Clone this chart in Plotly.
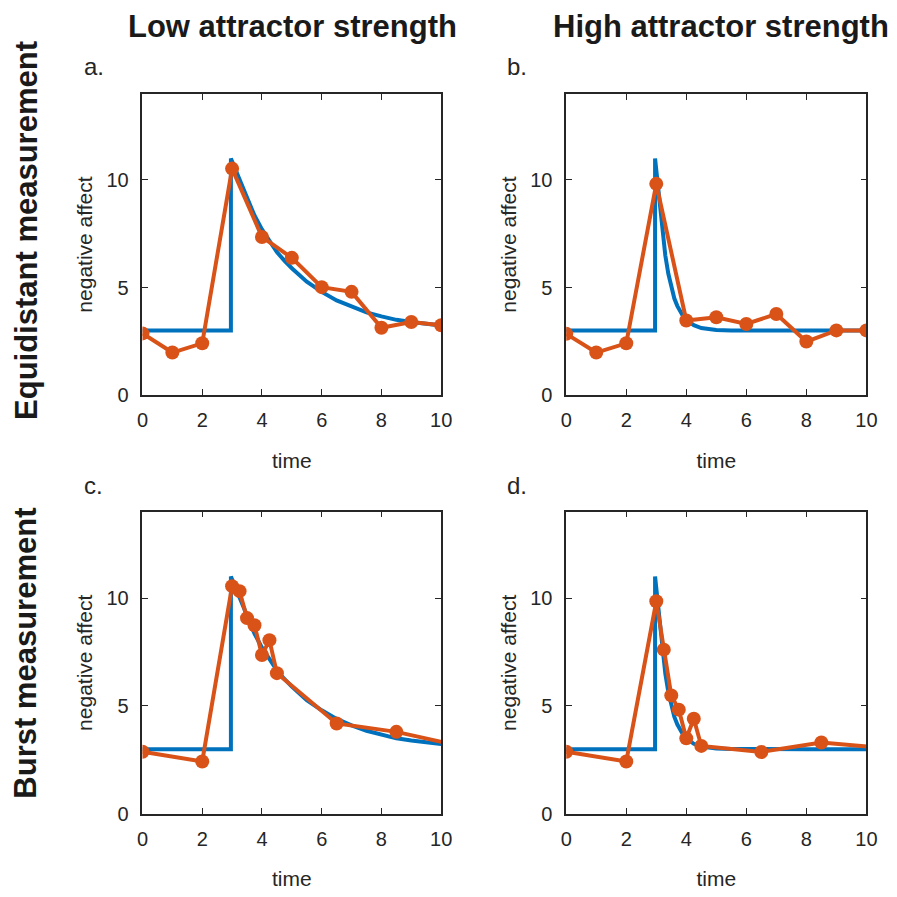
import plotly.graph_objects as go
from plotly.subplots import make_subplots

# ---- data ----
# true (latent) process, low attractor strength
low_t = [0, 2.96, 2.96, 3.25, 3.5, 3.75, 4, 4.25, 4.5, 4.75, 5, 5.5, 6, 6.5, 7, 7.5, 8, 8.5, 9, 9.5, 10]
low_v = [3, 3, 11, 10.0, 9.15, 8.35, 7.7, 7.15, 6.65, 6.25, 5.9, 5.27, 4.8, 4.4, 4.1, 3.85, 3.66, 3.5, 3.4, 3.3, 3.24]
# true (latent) process, high attractor strength
high_t = [0, 2.96, 2.96, 3.1, 3.2, 3.3, 3.4, 3.5, 3.6, 3.7, 3.8, 3.9, 4.0, 4.25, 4.5, 4.75, 5, 5.5, 6, 8, 10]
high_v = [3, 3, 11, 9.05, 7.6, 6.5, 5.65, 5.0, 4.5, 4.15, 3.87, 3.65, 3.5, 3.25, 3.12, 3.06, 3.03, 3.01, 3.0, 3.0, 3.0]

# equidistant measurements
eq_t = [0, 1, 2, 3, 4, 5, 6, 7, 8, 9, 10]
eq_low = [2.87, 1.98, 2.41, 10.53, 7.35, 6.38, 5.02, 4.8, 3.13, 3.4, 3.25]
eq_high = [2.85, 1.98, 2.41, 9.82, 3.47, 3.62, 3.31, 3.77, 2.49, 3.01, 3.01]

# burst measurements
bu_t = [0, 2, 3, 3.25, 3.5, 3.75, 4, 4.25, 4.5, 6.5, 8.5, 10.5]
bu_low = [2.88, 2.43, 10.55, 10.32, 9.07, 8.74, 7.36, 8.05, 6.52, 4.19, 3.8, 3.19]
bu_high = [2.88, 2.43, 9.85, 7.61, 5.49, 4.83, 3.5, 4.41, 3.15, 2.87, 3.31, 3.06]

col_titles = ["Low attractor strength", "High attractor strength"]
row_titles = ["Equidistant measurement", "Burst measurement"]
panel_labels = ["a.", "b.", "c.", "d."]
x_ticks = [0, 2, 4, 6, 8, 10]
y_ticks = [0, 5, 10]

BLUE = "#0072BD"
ORANGE = "#D95319"
AX = "#262626"
FONT = "Liberation Sans, Arial, sans-serif"
OFF = 8          # default page body margin
W = H = 897 - OFF

fig = make_subplots(rows=2, cols=2)

panels = [
    (1, 1, low_t, low_v, eq_t, eq_low),
    (1, 2, high_t, high_v, eq_t, eq_high),
    (2, 1, low_t, low_v, bu_t, bu_low),
    (2, 2, high_t, high_v, bu_t, bu_high),
]
for r, c, tt, tv, mt, mv in panels:
    fig.add_trace(go.Scatter(x=tt, y=tv, mode="lines",
                             line=dict(color=BLUE, width=4),
                             showlegend=False, hoverinfo="skip"), row=r, col=c)
    fig.add_trace(go.Scatter(x=mt, y=mv, mode="lines+markers",
                             line=dict(color=ORANGE, width=4),
                             marker=dict(color=ORANGE, size=14),
                             showlegend=False), row=r, col=c)

# axes placement in page pixels
xcols = [(139, 443.5), (571, 877)]
yrows = [(95, 400), (518, 824)]

def px2x(p):
    return (p - OFF) / W

def px2y(p):
    return 1 - (p - OFF) / H

for r in range(2):
    for c in range(2):
        idx = r * 2 + c + 1
        xa = "xaxis" if idx == 1 else f"xaxis{idx}"
        ya = "yaxis" if idx == 1 else f"yaxis{idx}"
        fig.layout[xa].update(
            domain=[px2x(xcols[c][0]), px2x(xcols[c][1])],
            range=[0, 10], tickvals=x_ticks, ticks="inside", ticklen=6,
            tickwidth=1.3, tickcolor=AX, showline=True, linecolor=AX,
            linewidth=1.6, mirror="ticks", showgrid=False, zeroline=False,
            tickfont=dict(family=FONT, size=20, color=AX),
            ticklabelstandoff=6,
            title=dict(text="time", font=dict(family=FONT, size=21, color=AX), standoff=23),
        )
        fig.layout[ya].update(
            domain=[px2y(yrows[r][1]), px2y(yrows[r][0])],
            range=[0, 14], tickvals=y_ticks, ticks="inside", ticklen=6,
            tickwidth=1.3, tickcolor=AX, showline=True, linecolor=AX,
            linewidth=1.6, mirror="ticks", showgrid=False, zeroline=False,
            tickfont=dict(family=FONT, size=20, color=AX),
            ticklabelstandoff=8,
            title=dict(text="negative affect", font=dict(family=FONT, size=21, color=AX), standoff=8),
        )

annotations = []
# column titles
for c, txt in enumerate(col_titles):
    cx = [292, 729][c]
    annotations.append(dict(text=f"<b>{txt}</b>", x=px2x(cx), y=1, xref="paper", yref="paper",
                            showarrow=False, xanchor="center", yanchor="top", borderpad=0,
                            font=dict(family=FONT, size=31, color="#1a1a1a")))
# row titles
for r, txt in enumerate(row_titles):
    cy = [233, 661][r]
    annotations.append(dict(text=f"<b>{txt}</b>", x=px2x(20), y=px2y(cy), xref="paper", yref="paper",
                            showarrow=False, xanchor="center", yanchor="middle", textangle=-90,
                            borderpad=0,
                            font=dict(family=FONT, size=31, color="#1a1a1a")))
# panel labels
for i, txt in enumerate(panel_labels):
    r, c = divmod(i, 2)
    lx = [77, 509][c]
    ly = [67, 491][r]
    annotations.append(dict(text=txt, x=px2x(lx), y=px2y(ly), xref="paper", yref="paper",
                            showarrow=False, xanchor="left", yanchor="middle",
                            font=dict(family=FONT, size=24, color=AX)))

fig.update_layout(
    width=W, height=H, margin=dict(l=0, r=0, t=0, b=0),
    paper_bgcolor="white", plot_bgcolor="white",
    annotations=annotations,
)

fig.write_html("out.html")
